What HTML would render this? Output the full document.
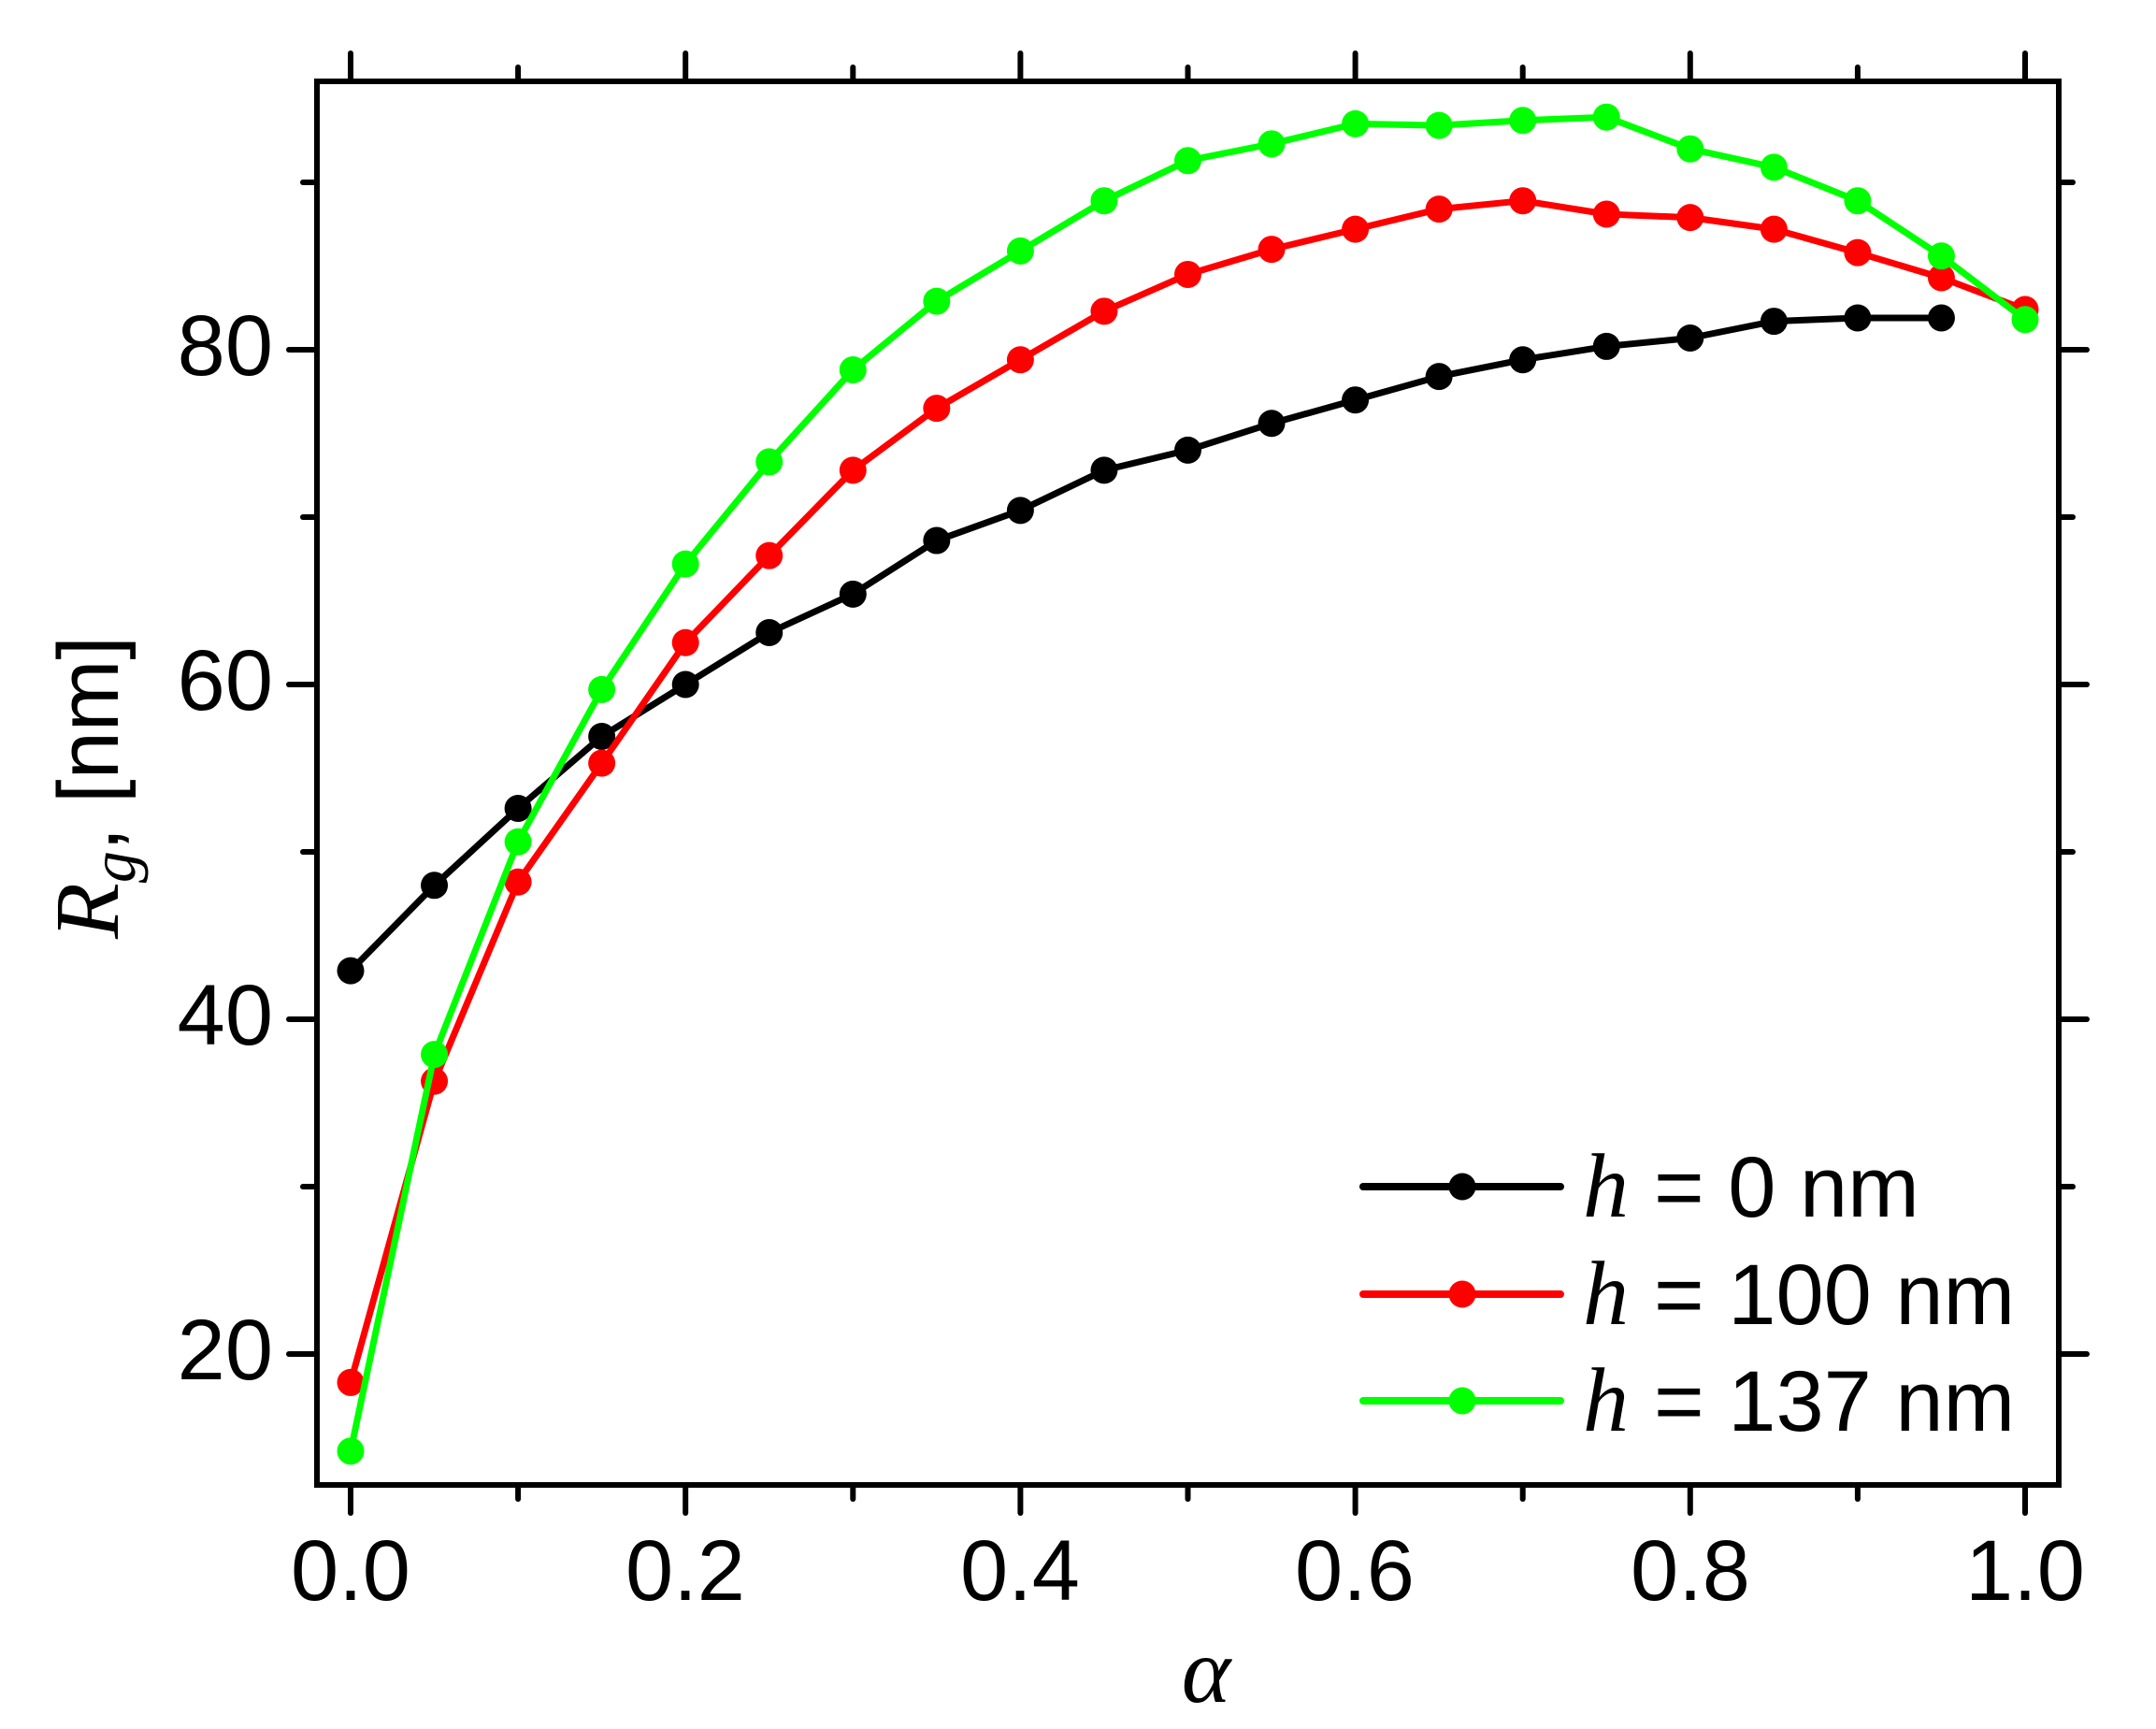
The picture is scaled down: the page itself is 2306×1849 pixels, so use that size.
<!DOCTYPE html>
<html><head><meta charset="utf-8"><style>html,body{margin:0;padding:0;background:#fff}svg{display:block}</style></head>
<body>
<svg id="s" width="2306" height="1849" viewBox="0 0 2306 1849" xmlns="http://www.w3.org/2000/svg">
<rect width="2306" height="1849" fill="#fff"/>
<g id="data"></g>
<g id="axes" stroke="#000" stroke-width="6" stroke-linecap="round" fill="none">
<rect x="339" y="87" width="1863" height="1501" stroke-linecap="square"/>
</g>
<g font-family="Liberation Sans, Arial, sans-serif" font-size="92" fill="#000">
<text x="292" y="401" text-anchor="end">80</text>
<text x="292" y="759" text-anchor="end">60</text>
<text x="292" y="1117" text-anchor="end">40</text>
<text x="292" y="1475" text-anchor="end">20</text>
<g text-anchor="middle">
<text x="375" y="1711">0.0</text>
<text x="733" y="1711">0.2</text>
<text x="1091" y="1711">0.4</text>
<text x="1449" y="1711">0.6</text>
<text x="1808" y="1711">0.8</text>
<text x="2166" y="1711">1.0</text>
</g>
<text x="1769" y="1301">= 0 nm</text>
<text x="1769" y="1416">= 100 nm</text>
<text x="1769" y="1530">= 137 nm</text>
</g>
<g font-family="Liberation Serif, Times New Roman, serif" font-style="italic" font-size="98" fill="#000">
<text x="1693" y="1301">h</text>
<text x="1693" y="1416">h</text>
<text x="1693" y="1530">h</text>
<text x="1290" y="1820" text-anchor="middle" font-size="100">α</text>
</g>
<g transform="translate(126,842) rotate(-90)" fill="#000">
<text text-anchor="middle"><tspan font-family="Liberation Serif, serif" font-style="italic" font-size="98">R</tspan><tspan font-family="Liberation Serif, serif" font-style="italic" font-size="68" dy="18">g</tspan><tspan font-family="Liberation Sans, sans-serif" font-size="92" dy="-18">, [nm]</tspan></text>
</g>
</svg>
<script>
(function(){
var NS="http://www.w3.org/2000/svg";
function X(a){return 375+a*1791;}
function Y(v){return 374+(80-v)*17.9;}
var axes=document.getElementById('axes');
function ln(x1,y1,x2,y2){var l=document.createElementNS(NS,'line');l.setAttribute('x1',x1);l.setAttribute('y1',y1);l.setAttribute('x2',x2);l.setAttribute('y2',y2);axes.appendChild(l);}
for(var i=0;i<=10;i++){var x=X(i/10),L=(i%2==0)?30:15;ln(x,1588,x,1588+L);ln(x,87,x,87-L);}
for(var v=20;v<=90;v+=10){var y=Y(v),L=(v%20==0)?30:15;ln(339,y,339-L,y);ln(2202,y,2202+L,y);}
var blk=[42.9,48.0,52.6,56.9,60.0,63.1,65.4,68.6,70.4,72.8,74.0,75.6,77.0,78.4,79.4,80.2,80.7,81.7,81.9,81.9];
var red=[18.3,36.3,48.2,55.3,62.5,67.7,72.8,76.5,79.4,82.3,84.5,86.0,87.2,88.4,88.9,88.1,87.9,87.2,85.8,84.3,82.4];
var grn=[14.2,37.9,50.6,59.7,67.2,73.3,78.8,82.9,85.9,88.9,91.3,92.3,93.5,93.4,93.7,93.9,92.0,90.9,88.9,85.6,81.8];
var g=document.getElementById('data');
function series(d,c){
 var pts=d.map(function(v,i){return X(i*0.05).toFixed(1)+','+Y(v).toFixed(1);}).join(' ');
 var p=document.createElementNS(NS,'polyline');p.setAttribute('points',pts);p.setAttribute('fill','none');p.setAttribute('stroke',c);p.setAttribute('stroke-width','7');p.setAttribute('stroke-linejoin','round');g.appendChild(p);
 d.forEach(function(v,i){var e=document.createElementNS(NS,'circle');e.setAttribute('cx',X(i*0.05));e.setAttribute('cy',Y(v));e.setAttribute('r','14.5');e.setAttribute('fill',c);g.appendChild(e);});
}
series(blk,'#000');series(red,'#ff0000');series(grn,'#00ff00');
function leg(y,c){var l=document.createElementNS(NS,'line');l.setAttribute('x1',1458);l.setAttribute('x2',1669);l.setAttribute('y1',y);l.setAttribute('y2',y);l.setAttribute('stroke',c);l.setAttribute('stroke-width','8');l.setAttribute('stroke-linecap','round');g.appendChild(l);
 var e=document.createElementNS(NS,'circle');e.setAttribute('cx',1564);e.setAttribute('cy',y);e.setAttribute('r','14.5');e.setAttribute('fill',c);g.appendChild(e);}
leg(1269,'#000');leg(1384,'#ff0000');leg(1498,'#00ff00');
})();
</script>
</body></html>
